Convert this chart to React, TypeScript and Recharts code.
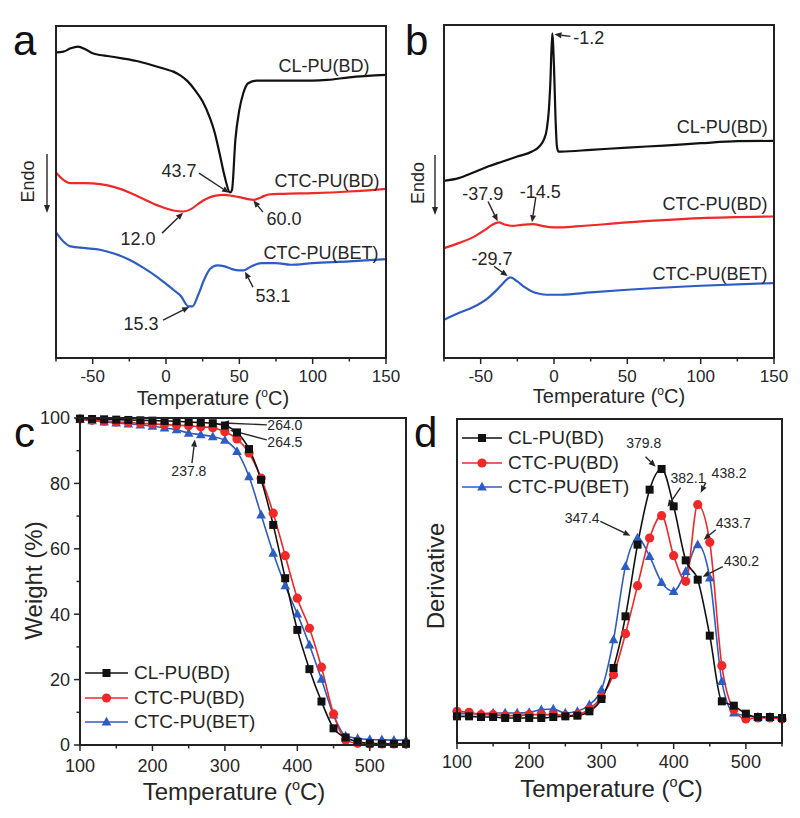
import { LineChart, Line, XAxis, YAxis, ReferenceLine, ReferenceDot, Legend } from "recharts";

const FONT = '"Liberation Sans", Arial, Helvetica, sans-serif';
const INK = "#262626";
const BLACK = "#111111";
const RED = "#f02828";
const BLUE = "#2d5cc4";
const NAMES = ["CL-PU(BD)", "CTC-PU(BD)", "CTC-PU(BET)"];

// ---- (a) DSC, heating scan (arbitrary heat flow units)
const aT_CL = [-75, -70, -65, -60, -55, -50, -45, -40, -30, -20, -10, 0, 5, 10, 15, 20, 25, 30, 33, 36.5, 40, 43.7, 45, 47.3, 50, 52.7, 56, 62, 75, 100, 110, 125, 150];
const aCL = [91.8, 92.0, 93.0, 93.5, 92.7, 91.5, 91.0, 90.7, 90.0, 89.2, 88.0, 86.7, 86.0, 84.8, 83.0, 80.3, 77.0, 72.0, 68.0, 61.5, 54.5, 49.7, 50.5, 65.5, 74.5, 79.5, 82.5, 83.3, 83.3, 83.3, 83.5, 84.3, 85.0];
const aT_R = [-75, -70, -65, -55, -45, -35, -25, -15, -5, 5, 12, 17, 22, 27, 33, 40, 45, 50, 55, 60, 65, 70, 80, 100, 125, 150];
const aR = [55.7, 53.5, 52.5, 52.5, 52.2, 51.3, 49.7, 47.7, 45.7, 44.3, 44.0, 44.7, 46.3, 47.7, 48.7, 49.0, 48.7, 48.3, 47.8, 47.5, 48.3, 49.1, 49.3, 49.5, 50.0, 50.8];
const aT_B = [-75, -70, -65, -55, -45, -35, -25, -15, -5, 5, 10, 15.3, 18, 22, 26, 30, 35, 40, 45, 50, 53, 58, 65, 75, 85, 100, 125, 150];
const aB = [37.7, 35.0, 33.5, 33.0, 32.5, 31.3, 29.5, 27.0, 24.0, 20.5, 18.7, 15.5, 15.5, 19.0, 23.5, 26.7, 27.8, 27.5, 26.7, 26.3, 26.3, 27.5, 28.5, 28.5, 28.0, 28.5, 29.0, 29.7];

// ---- (b) DSC, cooling scan
const bT_CL = [-75, -65, -55, -45, -35, -25, -15, -10, -7, -5, -3.5, -2.5, -1.2, 0, 1, 2, 3, 5, 25, 50, 75, 100, 125, 150];
const bCL = [53.2, 54.0, 55.7, 57.5, 59.0, 60.5, 62.0, 63.5, 65.5, 68.5, 74.5, 82.5, 97.5, 87.5, 72.5, 63.5, 62.0, 62.0, 62.5, 63.2, 63.8, 64.5, 65.1, 65.2];
const bT_R = [-75, -65, -55, -47, -42, -37.9, -33, -28, -22, -14.5, -8, -3, 3, 15, 50, 100, 150];
const bR = [33.0, 34.5, 36.3, 38.5, 40.0, 40.7, 40.0, 39.7, 40.0, 40.2, 39.7, 39.3, 39.2, 39.5, 40.7, 42.0, 42.5];
const bT_B = [-75, -65, -55, -45, -40, -35, -31, -29.7, -25, -20, -15, -10, -5, 5, 25, 50, 100, 150];
const bB = [11.5, 13.5, 15.3, 18.0, 20.0, 22.3, 24.0, 24.2, 23.0, 21.3, 20.0, 19.3, 19.0, 19.0, 19.7, 20.5, 21.7, 22.5];

// ---- (c) TGA weight, (d) derivative: sampled temperatures
const tT = [100, 116.7, 133.3, 150, 166.7, 183.3, 200, 216.7, 233.3, 250, 266.7, 283.3, 300, 316.7, 333.3, 350, 366.7, 383.3, 400, 416.7, 433.3, 450, 466.7, 483.3, 500, 516.7, 533.3, 550];
const cCL = [99.8, 99.7, 99.6, 99.5, 99.4, 99.3, 99.2, 99.1, 99.0, 98.8, 98.6, 98.4, 97.7, 95.6, 90.5, 81.1, 67.3, 51.0, 35.2, 23.2, 13.3, 5.1, 2.3, 1.0, 0.5, 0.4, 0.4, 0.4];
const cR = [99.7, 99.3, 99.0, 98.8, 98.6, 98.4, 98.2, 98.0, 97.8, 97.6, 97.3, 97.0, 95.8, 93.6, 89.3, 81.6, 70.9, 57.9, 44.9, 35.7, 23.8, 9.5, 1.5, 0.5, 0.3, 0.3, 0.3, 0.3];
const cB = [99.6, 99.2, 98.8, 98.5, 98.2, 97.9, 97.5, 97.0, 96.4, 95.4, 94.9, 94.3, 93.2, 89.8, 82.1, 70.4, 58.7, 48.7, 40.1, 30.6, 20.1, 9.2, 2.8, 2.0, 1.7, 1.6, 1.5, 1.5];
const dCL = [8.0, 8.0, 7.8, 7.8, 7.5, 7.5, 7.5, 7.5, 7.8, 8.0, 8.2, 9.5, 13.2, 22.5, 38.0, 59.5, 76.0, 82.2, 71.0, 54.8, 49.0, 32.2, 12.5, 11.2, 8.8, 7.8, 7.8, 7.5];
const dR = [9.5, 9.2, 8.5, 8.5, 8.2, 8.2, 8.5, 8.5, 8.5, 8.2, 8.5, 10.2, 13.8, 20.5, 32.8, 47.2, 61.5, 68.2, 56.2, 48.5, 71.5, 60.2, 23.2, 10.0, 7.2, 7.5, 7.5, 7.2];
const dB = [8.8, 8.8, 8.8, 9.0, 9.0, 9.0, 9.2, 10.0, 10.2, 9.0, 9.5, 11.5, 16.0, 31.0, 53.0, 61.5, 56.0, 48.2, 45.5, 51.5, 59.5, 49.5, 18.5, 9.0, 8.2, 7.8, 7.8, 7.8];

// axis ticks
const dscTicks = [-75, -50, -25, 0, 25, 50, 75, 100, 125, 150];
const dscLabels = [-50, 0, 50, 100, 150];
const tgaTicks = [100, 150, 200, 250, 300, 350, 400, 450, 500, 550];
const tgaLabels = [100, 200, 300, 400, 500];
const wTicks = [0, 10, 20, 30, 40, 50, 60, 70, 80, 90, 100];
const wLabels = [0, 20, 40, 60, 80, 100];

// annotations: [text, x, y]  and arrows: [x1, y1, x2, y2] in data units
const aNotes: [string, number, number][] = [["CL-PU(BD)", 107.7, 87.9], ["43.7", 8.9, 56.4], ["CTC-PU(BD)", 109.8, 53.4], ["60.0", 80.5, 42], ["12.0", -19.1, 36], ["CTC-PU(BET)", 105.7, 31.8], ["53.1", 73, 18.9], ["15.3", -17, 10.5]];
const aArrows = [[22.5, 55.5, 43.0, 49.6], [66.1, 43.8, 59.6, 47.3], [-2.7, 37.5, 11.6, 43.6], [59.3, 21.3, 53.9, 25.9], [-2.0, 11.4, 15.8, 15.3]];
const bNotes: [string, number, number][] = [["-1.2", 23.7, 96.3], ["CL-PU(BD)", 114.7, 69.5], ["-37.9", -48.6, 49.5], ["-14.5", -9.3, 50], ["CTC-PU(BD)", 109.7, 46.5], ["-29.7", -42.2, 30], ["CTC-PU(BET)", 106.3, 25.5]];
const bArrows = [[11.2, 96.6, 0.3, 97.2], [-45.0, 47.0, -38.4, 41.1], [-12.4, 48.3, -15.0, 40.8], [-40.9, 27.5, -31.6, 24.6]];
const cNotes: [string, number, number][] = [["264.0", 382.8, 98.0], ["264.5", 382.8, 92.7], ["237.8", 250.3, 83.8]];
const cArrows = [[357.9, 97.9, 296, 98.5], [357.9, 93.3, 307, 96.3], [254.5, 86.2, 258.6, 93.4]];
const dNotes: [string, number, number][] = [["379.8", 358.6, 90], ["382.1", 419.8, 79.5], ["438.2", 476.8, 81], ["347.4", 273.3, 67.5], ["433.7", 482.4, 66], ["430.2", 494, 54.5]];
const dArrows = [[361, 85.9, 375, 82.9], [409.6, 76.6, 391.5, 70.9], [444.4, 78.1, 437.4, 75.1], [298.4, 66.5, 340.1, 62.2], [458.3, 64, 441.6, 61], [468, 52.9, 440.2, 49.9]];

// panel frames [left, top, width, height] in page pixels (each chart's plot area)
const FRAMES = [[55, 25, 332, 334], [443, 24, 332, 335], [79, 417, 328, 329], [456, 418, 327, 326]];

const pts = (t: number[], v: number[]) => t.map((x, i) => ({ x, y: v[i] }));
const SHAPE: Record<string, string> = { "CL-PU(BD)": "square", "CTC-PU(BD)": "circle", "CTC-PU(BET)": "triangle" };

function Marker({ shape, cx, cy, color }: any) {
  if (shape === "square") return <rect x={cx - 4} y={cy - 4} width={8} height={8} fill={color} />;
  if (shape === "circle") return <circle cx={cx} cy={cy} r={4.6} fill={color} />;
  return <polygon points={`${cx},${cy - 5.2} ${cx + 4.8},${cy + 3.6} ${cx - 4.8},${cy + 3.6}`} fill={color} />;
}
const dotFor = (shape: string, color: string) => (p: any) => <Marker key={p.index} shape={shape} cx={p.cx} cy={p.cy} color={color} />;

function Arrow(p: any) {
  const { x1, y1, x2, y2 } = p;
  const a = Math.atan2(y2 - y1, x2 - x1);
  const L = 7, W = 3;
  const bx = x2 - L * Math.cos(a), by = y2 - L * Math.sin(a);
  const px = -Math.sin(a) * W, py = Math.cos(a) * W;
  return (
    <g>
      <line x1={x1} y1={y1} x2={bx} y2={by} stroke={INK} strokeWidth={1.4} />
      <polygon points={`${x2},${y2} ${bx + px},${by + py} ${bx - px},${by - py}`} fill={INK} />
    </g>
  );
}

const arrows = (list: number[][]) => list.map((a, i) => (
  <ReferenceLine key={"ar" + i} segment={[{ x: a[0], y: a[1] }, { x: a[2], y: a[3] }]} ifOverflow="visible" shape={Arrow} />
));
const notes = (list: [string, number, number][], fs: number) => list.map(([t, x, y], i) => (
  <ReferenceDot key={"nt" + i} x={x} y={y} r={1} ifOverflow="visible"
    shape={(p: any) => <text x={p.cx} y={p.cy + fs * 0.36} textAnchor="middle" fontSize={fs} fill={INK}>{t}</text>} />
));

const xTick = (majors: number[], labels: number[], fs: number, gap: number) => (p: any) => {
  const v = p.payload.value;
  const major = majors.includes(v);
  return (
    <g>
      <line x1={p.x} x2={p.x} y1={p.y} y2={p.y + (major ? 6 : 3.5)} stroke={INK} strokeWidth={1.5} />
      {labels.includes(v) && <text x={p.x} y={p.y + gap} textAnchor="middle" fontSize={fs} fill={INK}>{v}</text>}
    </g>
  );
};
const yTick = (labels: number[], fs: number) => (p: any) => {
  const v = p.payload.value;
  const major = labels.includes(v);
  return (
    <g>
      <line x1={p.x} x2={p.x - (major ? 6 : 3.5)} y1={p.y} y2={p.y} stroke={INK} strokeWidth={1.5} />
      {major && <text x={p.x - 10} y={p.y + fs * 0.36} textAnchor="end" fontSize={fs} fill={INK}>{v}</text>}
    </g>
  );
};

function TempTitle({ x, y, fs }: any) {
  return (
    <text x={x} y={y} textAnchor="middle" fontSize={fs} fill={INK}>
      Temperature (<tspan fontSize={fs * 0.6} dy={-fs * 0.42}>o</tspan><tspan dy={fs * 0.42}>C)</tspan>
    </text>
  );
}
const tempLabel = (dx: number, dy: number, fs: number) => (p: any) => {
  const vb = p.viewBox;
  return <TempTitle x={vb.x + vb.width / 2 + dx} y={vb.y + dy} fs={fs} />;
};
const endoLabel = (dxText: number, dxArrow: number, y1: number, y2: number) => (p: any) => {
  const vb = p.viewBox;
  const right = vb.x + vb.width;
  const ax = right + dxArrow;
  const tx = right + dxText, ty = vb.y + (y1 + y2) / 2 - 2;
  return (
    <g>
      <text x={tx} y={ty} transform={`rotate(-90 ${tx} ${ty})`} textAnchor="middle" dominantBaseline="central" fontSize={18} fill={INK}>Endo</text>
      <line x1={ax} x2={ax} y1={vb.y + y1} y2={vb.y + y2 - 7} stroke={INK} strokeWidth={1.4} />
      <polygon points={`${ax},${vb.y + y2} ${ax - 3},${vb.y + y2 - 8} ${ax + 3},${vb.y + y2 - 8}`} fill={INK} />
    </g>
  );
};
const yTitle = (text: string, dx: number, dy: number) => (p: any) => {
  const vb = p.viewBox;
  const x = vb.x + dx, y = vb.y + vb.height / 2 + dy;
  return <text x={x} y={y} transform={`rotate(-90 ${x} ${y})`} textAnchor="middle" dominantBaseline="central" fontSize={24} fill={INK}>{text}</text>;
};

function LegendBox(props: any) {
  const items = [...(props.payload || [])].sort((a: any, b: any) => NAMES.indexOf(a.value) - NAMES.indexOf(b.value));
  return (
    <div style={{ fontFamily: FONT }}>
      {items.map((it: any) => (
        <div key={it.value} style={{ display: "flex", alignItems: "center", height: 24.5 }}>
          <svg width={props.iw} height={14} style={{ marginRight: 6 }}>
            <line x1={0} x2={props.iw} y1={7} y2={7} stroke={it.color} strokeWidth={1.6} />
            <Marker shape={SHAPE[it.value]} cx={props.iw / 2} cy={7} color={it.color} />
          </svg>
          <span style={{ fontSize: 19, color: INK }}>{it.value}</span>
        </div>
      ))}
    </div>
  );
}

export default function App() {
  return (
    <div style={{ position: "absolute", left: 0, top: 0, width: 800, height: 818, background: "#fff", fontFamily: FONT, overflow: "hidden" }}>
      {/* a */}
      <div style={{ position: "absolute", left: 0, top: 0 }}>
        <LineChart width={400} height={410} margin={{ top: 26, right: 14, bottom: 12, left: 55 }}>
          <XAxis dataKey="x" type="number" domain={[-75, 150]} ticks={dscTicks} interval={0} tickSize={0} tickMargin={0} tickLine={false}
            axisLine={false} height={40} tick={xTick(dscLabels, dscLabels, 17, 24)} label={tempLabel(-8, 47, 20)} />
          <YAxis type="number" domain={[0, 99.7]} width={1} tick={false} tickLine={false} axisLine={false} label={endoLabel(-28, -9, 128, 187)} />
          <Line data={pts(aT_CL, aCL)} dataKey="y" type="monotone" stroke={BLACK} strokeWidth={2.2} dot={false} isAnimationActive={false} />
          <Line data={pts(aT_R, aR)} dataKey="y" type="monotone" stroke={RED} strokeWidth={2.2} dot={false} isAnimationActive={false} />
          <Line data={pts(aT_B, aB)} dataKey="y" type="monotone" stroke={BLUE} strokeWidth={2.2} dot={false} isAnimationActive={false} />
          {arrows(aArrows)}
          {notes(aNotes, 18)}
        </LineChart>
      </div>
      {/* b */}
      <div style={{ position: "absolute", left: 400, top: 0 }}>
        <LineChart width={400} height={410} margin={{ top: 25, right: 26, bottom: 12, left: 43 }}>
          <XAxis dataKey="x" type="number" domain={[-75, 150]} ticks={dscTicks} interval={0} tickSize={0} tickMargin={0} tickLine={false}
            axisLine={false} height={40} tick={xTick(dscLabels, dscLabels, 17, 24)} label={tempLabel(0, 45, 20)} />
          <YAxis type="number" domain={[0, 100]} width={1} tick={false} tickLine={false} axisLine={false} label={endoLabel(-26, -9, 130, 190)} />
          <Line data={pts(bT_CL, bCL)} dataKey="y" type="monotone" stroke={BLACK} strokeWidth={2.2} dot={false} isAnimationActive={false} />
          <Line data={pts(bT_R, bR)} dataKey="y" type="monotone" stroke={RED} strokeWidth={2.2} dot={false} isAnimationActive={false} />
          <Line data={pts(bT_B, bB)} dataKey="y" type="monotone" stroke={BLUE} strokeWidth={2.2} dot={false} isAnimationActive={false} />
          {arrows(bArrows)}
          {notes(bNotes, 18)}
        </LineChart>
      </div>
      {/* c */}
      <div style={{ position: "absolute", left: 0, top: 398 }}>
        <LineChart width={410} height={420} margin={{ top: 20, right: 4, bottom: 13, left: 20 }}>
          <XAxis dataKey="x" type="number" domain={[100, 550]} ticks={tgaTicks} interval={0} tickSize={0} tickMargin={0} tickLine={false}
            axisLine={false} height={60} tick={xTick(tgaLabels, tgaLabels, 18, 27)} label={tempLabel(-9, 55, 24)} />
          <YAxis type="number" domain={[0, 100]} ticks={wTicks} interval={0} tickSize={0} tickMargin={0} tickLine={false} axisLine={false} width={60}
            tick={yTick(wLabels, 18)} label={yTitle("Weight (%)", 13, -1)} />
          <Legend layout="vertical" align="center" verticalAlign="middle" wrapperStyle={{ left: 85, top: 263, width: "auto", height: "auto" }}
            content={(p: any) => <LegendBox {...p} iw={43} />} />
          <Line name={NAMES[2]} data={pts(tT, cB)} dataKey="y" type="monotone" stroke={BLUE} strokeWidth={1.6} dot={dotFor("triangle", BLUE)} isAnimationActive={false} />
          <Line name={NAMES[1]} data={pts(tT, cR)} dataKey="y" type="monotone" stroke={RED} strokeWidth={1.6} dot={dotFor("circle", RED)} isAnimationActive={false} />
          <Line name={NAMES[0]} data={pts(tT, cCL)} dataKey="y" type="monotone" stroke={BLACK} strokeWidth={1.6} dot={dotFor("square", BLACK)} isAnimationActive={false} />
          {arrows(cArrows)}
          {notes(cNotes, 14)}
        </LineChart>
      </div>
      {/* d */}
      <div style={{ position: "absolute", left: 400, top: 410 }}>
        <LineChart width={400} height={408} margin={{ top: 9, right: 18, bottom: 15, left: 27 }}>
          <XAxis dataKey="x" type="number" domain={[100, 550]} ticks={tgaTicks} interval={0} tickSize={0} tickMargin={0} tickLine={false}
            axisLine={false} height={60} tick={xTick(tgaLabels, tgaLabels, 18, 25)} label={tempLabel(-8, 54, 24)} />
          <YAxis type="number" domain={[0, 97.2]} width={30} tick={false} tickLine={false} axisLine={false} label={yTitle("Derivative", 8, -5)} />
          <Legend layout="vertical" align="center" verticalAlign="middle" wrapperStyle={{ left: 62, top: 16, width: "auto", height: "auto" }}
            content={(p: any) => <LegendBox {...p} iw={40} />} />
          <Line name={NAMES[2]} data={pts(tT, dB)} dataKey="y" type="monotone" stroke={BLUE} strokeWidth={1.6} dot={dotFor("triangle", BLUE)} isAnimationActive={false} />
          <Line name={NAMES[1]} data={pts(tT, dR)} dataKey="y" type="monotone" stroke={RED} strokeWidth={1.6} dot={dotFor("circle", RED)} isAnimationActive={false} />
          <Line name={NAMES[0]} data={pts(tT, dCL)} dataKey="y" type="monotone" stroke={BLACK} strokeWidth={1.6} dot={dotFor("square", BLACK)} isAnimationActive={false} />
          {arrows(dArrows)}
          {notes(dNotes, 14)}
        </LineChart>
      </div>
      {/* panel frames */}
      {FRAMES.map(([x, y, w, h], i) => (
        <div key={i} style={{ position: "absolute", left: x, top: y, width: w, height: h, boxSizing: "border-box", border: "2px solid #222", pointerEvents: "none" }} />
      ))}
      {/* panel letters */}
      <svg width={800} height={818} style={{ position: "absolute", left: 0, top: 0, pointerEvents: "none" }}>
        <g fontSize={42} fill="#111" fontFamily={FONT}>
          <text x={13} y={55}>a</text>
          <text x={405} y={55}>b</text>
          <text x={14} y={447}>c</text>
          <text x={414} y={447}>d</text>
        </g>
      </svg>
    </div>
  );
}
